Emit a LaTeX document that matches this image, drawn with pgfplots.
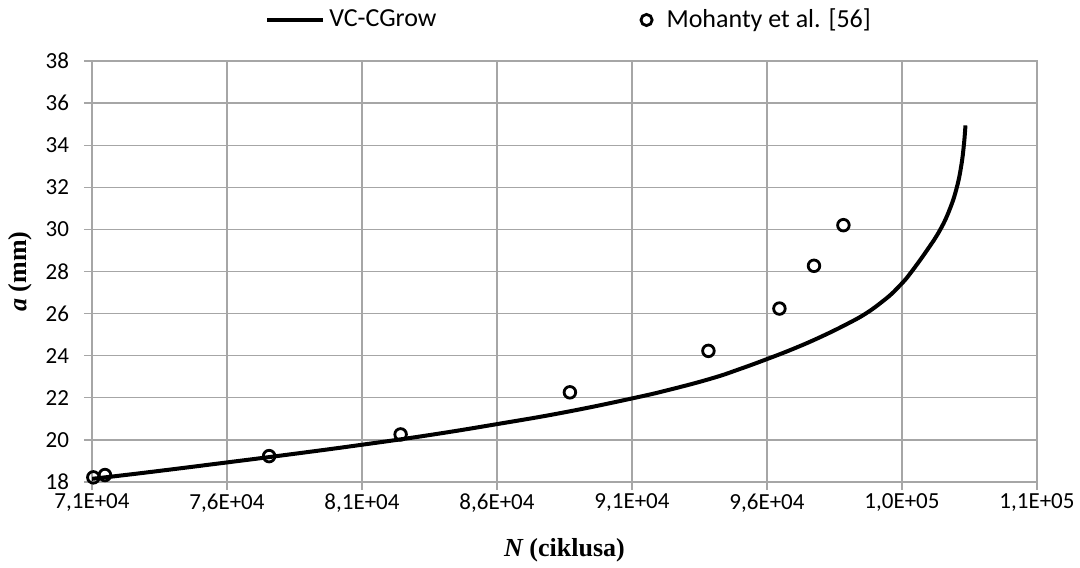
\documentclass[border=0pt]{standalone}
\usepackage{pgfplots}
\pgfplotsset{compat=1.18}
\usepackage{fontspec}
\setmainfont{Carlito}
\newfontfamily\timesfont{Liberation Serif}
\definecolor{gridgray}{RGB}{166,166,166}

% VC-CGrow prediction
\pgfplotstableread{
N a
71000 18.15
73000 18.45
76000 18.93
78500 19.34
81000 19.77
83500 20.23
86000 20.75
88500 21.31
91000 21.97
92500 22.42
94000 22.94
95000 23.37
96000 23.84
97000 24.34
98000 24.90
99000 25.53
99691 26.03
100300 26.60
100700 27.04
101000 27.44
101300 27.90
101921 29.00
102421 30.00
102781 31.00
103031 32.00
103191 33.00
103291 34.00
103350 34.94
}\vccgrow

% Mohanty et al. measurements
\pgfplotstableread{
N a
71050 18.22
71480 18.33
77560 19.23
82430 20.26
88700 22.26
93830 24.23
96460 26.24
97740 28.27
98830 30.20
}\mohanty

\begin{document}
\begin{tikzpicture}
\useasboundingbox (-46pt,-42.5pt) rectangle (494pt,241pt);
\begin{axis}[
    at={(0,0)}, anchor=south west,
    scale only axis,
    width=472.5pt, height=210.5pt,
    xmin=71000, xmax=106000,
    ymin=18, ymax=38,
    xtick={71000,76000,81000,86000,91000,96000,101000,106000},
    xticklabels={{7,1E+04},{7,6E+04},{8,1E+04},{8,6E+04},{9,1E+04},{9,6E+04},{1,0E+05},{1,1E+05}},
    ytick={18,20,...,38},
    scaled x ticks=false,
    grid=major,
    grid style={gridgray, line width=0.6pt},
    axis line style={gridgray, line width=0.6pt},
    tick style={gridgray, line width=0.6pt},
    tick align=outside,
    major tick length=4pt,
    xtick pos=bottom, ytick pos=left,
    tick label style={font=\fontsize{11.5}{13}\selectfont},
    xticklabel style={yshift=1.5pt},
    yticklabel style={xshift=-4pt},
    /pgf/number format/assume math mode=true,
    xlabel={\timesfont\bfseries\itshape N\upshape\ (ciklusa)},
    ylabel={\timesfont\bfseries\itshape a\upshape\ (mm)},
    label style={font=\fontsize{13}{15}\selectfont},
    xlabel style={at={(axis description cs:0.5,-0.162)}, anchor=center},
    ylabel style={at={(axis description cs:-0.076,0.5)}, anchor=center},
    legend style={
        at={(axis description cs:0.183,1.0974)}, anchor=west,
        draw=none, fill=none, inner sep=0pt,
        legend columns=2,
        font=\fontsize{13}{15}\selectfont,
        /tikz/every even column/.append style={column sep=99.5pt},
    },
    legend cell align={left},
]
\addplot[black, line width=2pt, smooth, tension=0.75,
    legend image code/.code={\draw[black, line width=2pt] (0pt,0pt) -- (28pt,0pt);}]
    table[x=N, y=a] {\vccgrow};
\addplot[only marks, mark=o, mark size=2.9pt,
    mark options={line width=1.4pt, fill=white, draw=black},
    legend image code/.code={\draw[black, line width=1.4pt, fill=white] (3pt,0pt) circle (2.8pt); \path[draw=none, fill=none] (0pt,0pt) -- (11pt,0pt);}]
    table[x=N, y=a] {\mohanty};
\legend{VC-CGrow, Mohanty et al. [56]}
\end{axis}
\end{tikzpicture}
\end{document}
